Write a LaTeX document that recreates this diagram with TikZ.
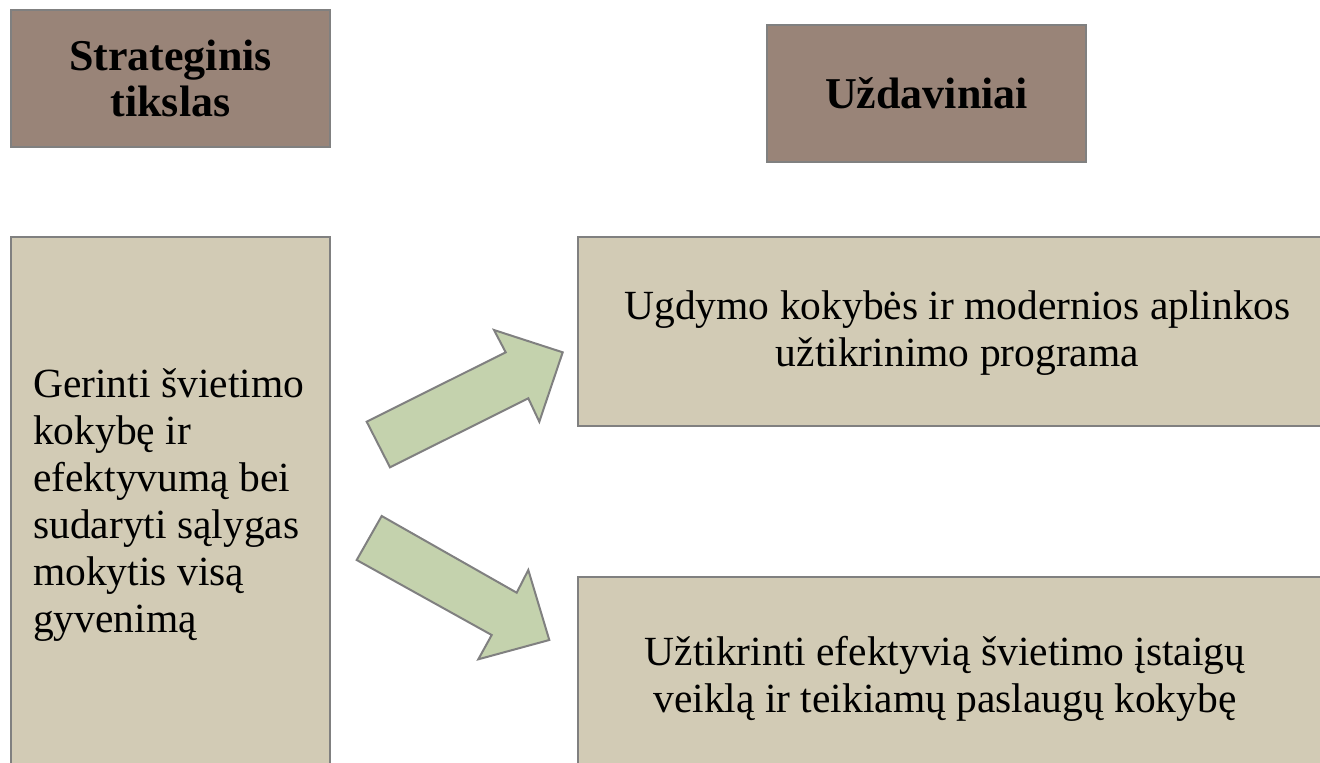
\documentclass[tikz,border=0pt]{standalone}
\usepackage{fontspec}
\setmainfont{Liberation Serif}
\definecolor{hdrfill}{RGB}{153,132,120}
\definecolor{bodyfill}{RGB}{210,203,181}
\definecolor{arrfill}{RGB}{196,210,173}
\definecolor{edgegray}{RGB}{128,128,128}
\begin{document}
\begin{tikzpicture}[x=1pt,y=-1pt,
  hdrbox/.style={draw=edgegray,line width=2pt,fill=hdrfill,inner sep=0pt,
    font=\fontsize{44}{46}\selectfont\bfseries,align=center},
  bodybox/.style={draw=edgegray,line width=2pt,fill=bodyfill,inner sep=0pt},
  blockarrow/.style={draw=edgegray,line width=2pt,fill=arrfill,line join=miter},
  bodytxt/.style={font=\fontsize{41.5}{47}\selectfont,inner sep=0pt}]
\useasboundingbox (0,0) rectangle (1320,763);
% header boxes
\node[hdrbox,minimum width=319pt,minimum height=137pt] (goalhdr) at (170.5,78.5) {Strateginis\\tikslas};
\node[hdrbox,minimum width=319pt,minimum height=137pt] (taskhdr) at (926.5,93.5) {Uždaviniai};
% body boxes
\node[bodybox,minimum width=319pt,minimum height=540pt] (goal) at (170.5,507) {};
\node[bodybox,minimum width=760pt,minimum height=189pt] (task1) at (958,331.5) {};
\node[bodybox,minimum width=760pt,minimum height=200pt] (task2) at (958,677) {};
% texts
\node[bodytxt,align=left,anchor=west] (goaltxt) at (33,505) {Gerinti švietimo\\kokybę ir\\efektyvumą bei\\sudaryti sąlygas\\mokytis visą\\gyvenimą};
\node[bodytxt,align=center] (task1txt) at (957.5,333) {Ugdymo kokybės ir modernios aplinkos\\užtikrinimo programa};
\node[bodytxt,align=center] (task2txt) at (945,679) {Užtikrinti efektyvią švietimo įstaigų\\veiklą ir teikiamų paslaugų kokybę};
% block arrows
\draw[blockarrow] (366.7,421.7) -- (390,467.3) -- (528.3,398.3) -- (539.3,421.7)
  -- (562.7,352.3) -- (494,330) -- (505.7,352.3) -- cycle;
\draw[blockarrow] (381.7,516) -- (516.7,592.7) -- (528.3,570) -- (549.3,640)
  -- (478.3,659.3) -- (491.7,635) -- (356.7,560) -- cycle;
\end{tikzpicture}
\end{document}
